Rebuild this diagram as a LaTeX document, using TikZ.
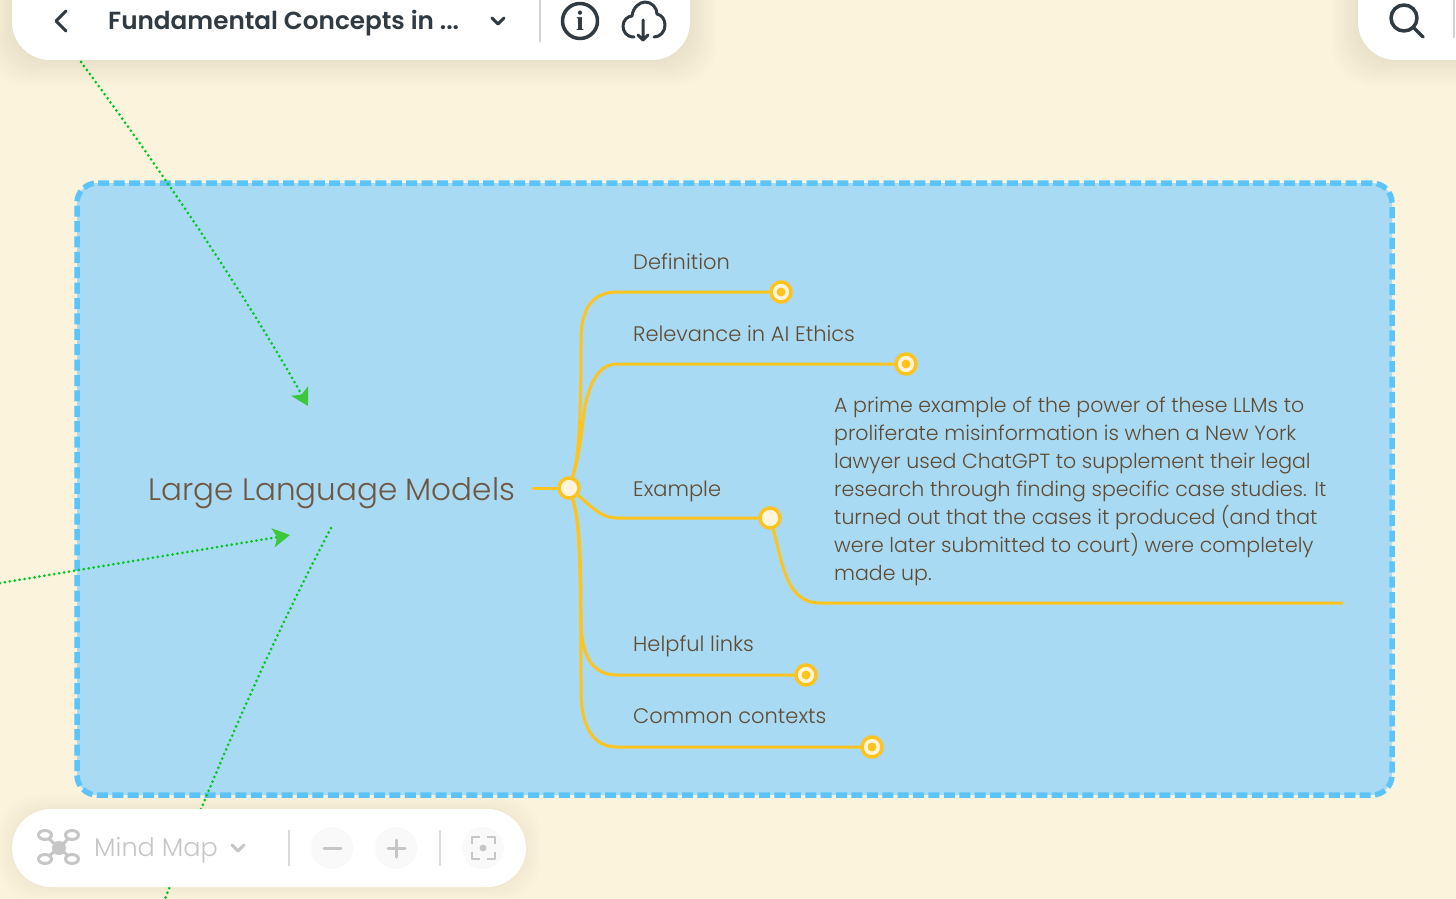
\documentclass[tikz,border=0pt]{standalone}
\usepackage{fontspec}
\setmainfont{Poppins}[UprightFont=* Light, BoldFont=* SemiBold]
\newfontfamily\serifi{Liberation Serif}[BoldFont=* Bold]
\usetikzlibrary{arrows.meta,calc,positioning}
\definecolor{paper}{HTML}{FBF3DB}
\definecolor{topicfill}{HTML}{A9DAF3}
\definecolor{topicedge}{HTML}{5BC4FB}
\definecolor{branch}{HTML}{FFC31E}
\definecolor{dotfill}{HTML}{FFF5DC}
\definecolor{inktext}{HTML}{5F4A32}
\definecolor{titletext}{HTML}{6F5642}
\definecolor{linkgreen}{HTML}{00C81E}
\definecolor{headgreen}{HTML}{3CC83C}
\definecolor{uidark}{HTML}{2F3A42}
\definecolor{uigrey}{HTML}{C6C6C6}
\tikzset{
	mind map/.style={x=1pt, y=-1pt, line cap=round},
	uibar/.style={fill=white, rounded corners=#1},
	uibar/.default=38pt,
	topicbox/.style={draw=topicedge, fill=topicfill, line width=5.5pt, rounded corners=20pt, outer sep=0pt,
		line cap=butt, dash pattern=on 11pt off 4.4pt},
	link/.style={draw=linkgreen, line width=3pt, dash pattern=on 0pt off 5pt},
	linkhead/.style={-{Stealth[length=17pt,width=19pt,inset=4pt,color=headgreen]}},
	wire/.style={draw=branch, line width=3pt},
	hub/.style={circle, draw=branch, fill=dotfill, line width=3.5pt, minimum size=20pt, inner sep=0pt},
	leaf/.style={hub, path picture={\fill[branch] (path picture bounding box.center) circle (4.5pt);}},
	label/.style={text=inktext, inner sep=0pt, anchor=base west, font=\fontsize{21}{21}\selectfont},
	icon/.style={draw=uidark, line width=3pt, line join=round},
	greyicon/.style={draw=uigrey, line width=3pt, line join=round},
	roundbtn/.style={circle, fill=black!2.5, minimum size=42pt, inner sep=0pt}
}
\begin{document}
\begin{tikzpicture}[mind map]
	\clip (0,0) rectangle (1456,899);
	\fill[paper] (0,0) rectangle (1456,899);

	% links running behind everything
	\node[topicbox, minimum width=1315pt, minimum height=612pt, anchor=north west] (topic) at (77,183) {};
	\coordinate (linkA) at (81,62);
	\coordinate (linkB) at (0,583);
	\coordinate (linkC) at (165,899);
	\coordinate (headA) at (308,406);
	\coordinate (headB) at (290,535);
	\coordinate (startC) at (331,528);
	\draw[link, linkhead] (linkA) .. controls (150,155) and (240,285) .. (headA);
	\draw[link, linkhead] (linkB) -- (headB);
	\draw[link] (startC) .. controls (280,625) and (225,745) .. (linkC);

	\node[text=titletext, font=\fontsize{31}{31}\selectfont, inner sep=0pt, anchor=base west] (title) at (148,500) {Large Language Models};

	% branches
	\node[hub] (root) at (569,488) {};
	\node[leaf] (defdot) at (781,292) {};
	\node[leaf] (reldot) at (906,364) {};
	\node[hub] (exdot) at (770,518) {};
	\node[leaf] (helpdot) at (806,675) {};
	\node[leaf] (commdot) at (872,747) {};
	\coordinate (rootin) at (533,488);
	\coordinate (exend) at (1342,603);
	\draw[wire] (rootin) -- (root);
	\draw[wire] (root) .. controls (578,460) and (581,430) .. (581,340) .. controls (581,305) and (595,292) .. (617,292) -- (defdot);
	\draw[wire] (root) .. controls (578,460) and (581,440) .. (583,420) .. controls (587,385) and (598,364) .. (617,364) -- (reldot);
	\draw[wire] (root) .. controls (590,505) and (600,518) .. (617,518) -- (exdot);
	\draw[wire] (root) .. controls (578,516) and (581,540) .. (581,620) .. controls (581,660) and (595,675) .. (617,675) -- (helpdot);
	\draw[wire] (root) .. controls (578,516) and (581,540) .. (581,690) .. controls (581,730) and (595,747) .. (617,747) -- (commdot);
	\draw[wire] (exdot) .. controls (782,560) and (785,603) .. (820,603) -- (exend);

	\node[label] (deflabel) at (633,269) {Definition};
	\node[label] (rellabel) at (633,341) {Relevance in AI Ethics};
	\node[label] (exlabel) at (633,496) {Example};
	\node[label] (helplabel) at (633,651) {Helpful links};
	\node[label] (commlabel) at (633,723) {Common contexts};
	\node[label, anchor=north west, align=left, font=\fontsize{20.5}{28}\selectfont] (extext) at (834,397) {A prime example of the power of these LLMs to\\
		proliferate misinformation is when a New York\\
		lawyer used ChatGPT to supplement their legal\\
		research through finding specific case studies. It\\
		turned out that the cases it produced (and that\\
		were later submitted to court) were completely\\
		made up.};

	% top bars
	\foreach \s in {2,5,...,26}
		\fill[black, opacity=.006, rounded corners=40pt] (12-\s,-40) rectangle (690+\s,60+\s);
	\foreach \s in {2,5,...,26}
		\fill[black, opacity=.006, rounded corners=40pt] (1358-\s,-40) rectangle (1500,60+\s);
	\fill[uibar] (12,-40) rectangle (690,60);
	\fill[uibar] (1358,-40) rectangle (1500,60);
	\node[text=uidark, font=\fontsize{24.7}{25}\selectfont\bfseries, inner sep=0pt, anchor=base west] (maptitle) at (108,30) {Fundamental Concepts in ...};
	\draw[icon] (66,11) -- (56,21) -- (66,31);
	\draw[icon] (492,18) -- (498,24) -- (504,18);
	\draw[black!18, line width=2pt, line cap=butt] (540,0) -- (540,42);
	\node[circle, icon, line width=3.5pt, minimum size=35pt, inner sep=0pt, text=uidark, font=\serifi\bfseries\fontsize{28}{28}\selectfont] (info) at (580,21) {i};
	\draw[icon] (634,37) .. controls (626,37) and (623,31) .. (623,26) .. controls (623,20) and (628,16) .. (632,16)
		.. controls (633,7) and (640,2) .. (645,2) .. controls (652,2) and (657,8) .. (657,14)
		.. controls (662,15) and (665,20) .. (665,25) .. controls (665,32) and (660,37) .. (654,37);
	\draw[icon] (643,20) -- (643,40) (638,35) -- (643,40) -- (648,35);
	\draw[icon, line width=3.5pt] (1404,18) circle (13) (1414,28) -- (1423,37);
	\draw[black!18, line width=2pt, line cap=butt] (1454,0) -- (1454,38);

	% bottom bar
	\foreach \s in {2,5,...,14}
		\fill[black, opacity=.006, rounded corners=40pt] (12-\s,809-\s) rectangle (526+\s,887+\s);
	\fill[uibar=39pt] (12,809) rectangle (526,887);
	\foreach \xa/\ya in {45/835,72/835,45/859,72/859}{
		\draw[greyicon] (59,848) -- (\xa,\ya);
		\draw[greyicon, fill=white] (\xa,\ya) ellipse (6.5 and 4.5);
	}
	\fill[uigrey] (59,848) circle (7);
	\node[text=uigrey, font=\fontsize{25.5}{27}\selectfont, inner sep=0pt, anchor=base west] (modelabel) at (94,856) {Mind Map};
	\draw[greyicon] (232,845) -- (238,851) -- (244,845);
	\draw[black!15, line width=2pt, line cap=butt] (289,830) -- (289,866) (440,830) -- (440,866);
	\node[roundbtn] (minus) at (332,848) {};
	\node[roundbtn] (plus) at (396,848) {};
	\node[roundbtn] (focus) at (483,848) {};
	\draw[greyicon] (324,848) -- (341,848) (388,848) -- (405,848) (396,840) -- (396,857);
	\draw[greyicon, line width=2pt, line cap=butt] (472,844) -- (472,837) -- (480,837) (487,837) -- (495,837) -- (495,844)
		(472,852) -- (472,859) -- (480,859) (487,859) -- (495,859) -- (495,852);
	\fill[uigrey] (483,848) circle (3.5);
\end{tikzpicture}
\end{document}
